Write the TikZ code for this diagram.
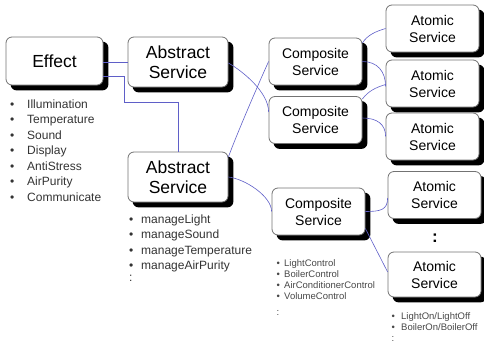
\documentclass[tikz,border=0pt]{standalone}
\usepackage{fontspec}
\setmainfont{Liberation Sans}
\usetikzlibrary{backgrounds}
\definecolor{lnk}{RGB}{95,95,200}
\definecolor{bord}{RGB}{115,115,115}
\newcommand\blA{\makebox[17pt][l]{•}}
\newcommand\blB{\makebox[12pt][l]{•}}
\newcommand\blC{\makebox[7.7pt][l]{•}}
\newcommand\blD{\makebox[9.7pt][l]{•}}
\begin{document}
\begin{tikzpicture}[x=1pt,y=-1pt,
 box/.style={draw=bord, line width=0.8pt, fill=white, rounded corners=6pt,
   align=center, inner sep=0pt},
 big/.style={box, font=\fontsize{17.5}{20}\selectfont},
 mid/.style={box, font=\fontsize{14}{17}\selectfont, minimum width=93pt, minimum height=47pt},
 shad/.style={fill=black, rounded corners=6pt},
 lnkline/.style={draw=lnk, line width=0.6pt},
 lst/.style={anchor=base west, align=left, inner sep=0pt, text=black!80, font=\fontsize{12}{15.5}\selectfont},
 slst/.style={anchor=base west, align=left, inner sep=0pt, text=black!72, font=\fontsize{9.5}{11}\selectfont}]
\useasboundingbox (0,0) rectangle (484,343);

\node[big, minimum width=97pt, minimum height=48pt] (eff) at (54.5,61) {Effect};
\node[big, minimum width=100pt, minimum height=50pt] (as1) at (178,62) {Abstract\\Service};
\node[big, minimum width=100pt, minimum height=50pt] (as2) at (178,177) {Abstract\\Service};
\node[mid] (c1) at (315.5,61.5) {Composite\\Service};
\node[mid] (c2) at (315.5,120) {Composite\\Service};
\node[mid] (c3) at (318.5,211.5) {Composite\\Service};
\node[mid] (a1) at (432.5,28.5) {Atomic\\Service};
\node[mid] (a2) at (432.5,83.5) {Atomic\\Service};
\node[mid] (a3) at (432.5,136.5) {Atomic\\Service};
\node[mid] (a4) at (434.5,195) {Atomic\\Service};
\node[mid, minimum height=45pt] (a5) at (434.5,274.5) {Atomic\\Service};
\node[anchor=base, inner sep=0pt, font=\fontsize{17}{17}\bfseries] (dots) at (435,242) {:};

\begin{scope}[on background layer]
\foreach \n in {eff,as1,as2,c1,c2,c3,a1,a2,a3,a4,a5}
  \fill[shad] ([shift={(5pt,-5pt)}]\n.south west) rectangle ([shift={(5pt,-5pt)}]\n.north east);
\end{scope}

% lists (anchored at the baseline of their last line)
\node[lst] (l1) at (10,201) {\blA Illumination\\\blA Temperature\\\blA Sound\\\blA Display\\\blA AntiStress\\\blA AirPurity\\\blA Communicate};
\node[lst] (l2) at (129,281) {\blB manageLight\\\blB manageSound\\\blB manageTemperature\\\blB manageAirPurity\\[-4pt]:};
\node[slst] (l3) at (276.3,315) {\blC LightControl\\\blC BoilerControl\\\blC AirConditionerControl\\\blC VolumeControl\\[5pt]:};
\node[slst] (l4) at (391.3,341) {\blD LightOn/LightOff\\\blD BoilerOn/BoilerOff\\:};

% connectors
\draw[lnkline] ([yshift=-1pt]eff.east) -- ([yshift=0pt]as1.west);
\draw[lnkline] ([yshift=-15pt]eff.east) -- ++(21,0) -- ++(0,26) -| (as2.north);
\draw[lnkline] ([yshift=-1pt]as1.east) .. controls +(14,8) and +(0,-20) .. ([yshift=8pt]c2.west);
\draw[lnkline] ([yshift=20pt]as2.east) .. controls +(8,-22) and +(-10,22) .. (c1.west);
\draw[lnkline] (as2.east) .. controls +(17,2) and +(0,-15) .. (c3.west);
\draw[lnkline] ([yshift=18.5pt]c1.east) .. controls +(5,-8) and +(-10,3) .. (a1.west);
\draw[lnkline] (c1.east) .. controls +(15,0) and +(0,-15) .. ([yshift=-3pt]a2.west);
\draw[lnkline] ([yshift=21pt]c2.east) .. controls +(6,-8) and +(-10,3) .. ([yshift=-1pt]a2.west);
\draw[lnkline] ([yshift=2pt]c2.east) .. controls +(15,0) and +(0,-12) .. (a3.west);
\draw[lnkline] (c3.east) .. controls +(15,0) and +(0,12) .. ([yshift=-3pt]a4.west);
\draw[lnkline] ([yshift=-17pt]c3.east) .. controls +(5,10) and +(-5,-10) .. ([yshift=2.5pt]a5.west);
\end{tikzpicture}
\end{document}
